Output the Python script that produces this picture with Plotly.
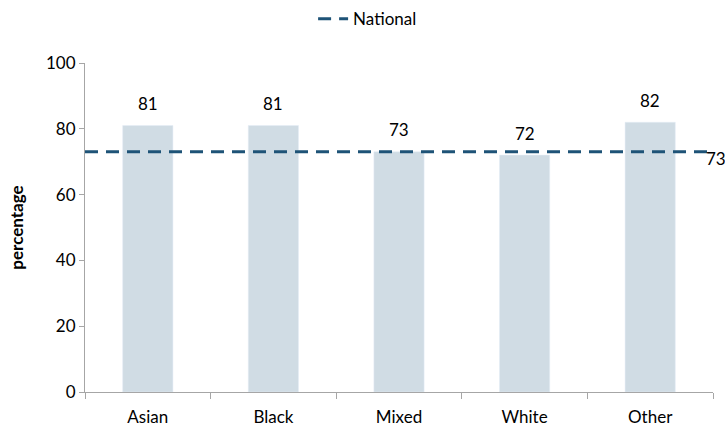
import plotly.graph_objects as go

categories = ["Asian", "Black", "Mixed", "White", "Other"]
values = [81, 81, 73, 72, 82]
national_value = 73
national_line = [national_value, national_value]
y_ticks = [0, 20, 40, 60, 80, 100]

FONT = "Lato, 'Open Sans', sans-serif"
BAR = "#d0dce4"
LINE = "#1e5377"
AXIS = "#a6a6a6"
TXT = "#000000"

fig = go.Figure()
fig.add_trace(go.Bar(
    x=categories, y=values, marker_color=BAR, width=0.4,
    showlegend=False, hoverinfo="x+y",
))
fig.add_trace(go.Scatter(
    x=[0, 1], y=national_line, xaxis="x2", yaxis="y",
    mode="lines", name="National",
    line=dict(color=LINE, width=3, dash="13px,8px"),
))

for c, v in zip(categories, values):
    fig.add_annotation(x=c, y=v, text=str(v), showarrow=False,
                       yanchor="middle", yshift=22,
                       font=dict(size=17, color=TXT, family=FONT))
fig.add_annotation(x=1, y=national_value, xref="paper", yref="y",
                   text=str(national_value), showarrow=False,
                   xanchor="left", yanchor="middle", xshift=-9, yshift=-7,
                   font=dict(size=17, color=TXT, family=FONT))

fig.update_layout(
    width=725, height=427,
    margin=dict(l=85, r=12, t=63, b=35),
    paper_bgcolor="white", plot_bgcolor="white",
    font=dict(family=FONT, size=17, color=TXT),
    legend=dict(orientation="h", x=0.45, xanchor="center", y=0.997, yanchor="top",
                xref="paper", yref="container", font=dict(size=17, color=TXT)),
    xaxis=dict(
        showline=True, linecolor=AXIS, linewidth=1, ticks="outside",
        tickson="boundaries", ticklen=6, tickcolor=AXIS, showgrid=False,
        tickfont=dict(size=17, color=TXT), range=[-0.5, 4.5],
        ticklabelstandoff=10, automargin=False,
    ),
    xaxis2=dict(overlaying="x", range=[0, 1], visible=False),
    yaxis=dict(
        range=[0, 100], tickvals=y_ticks, showline=True, linecolor=AXIS,
        linewidth=1, ticks="outside", ticklen=5, tickcolor=AXIS,
        showgrid=False, zeroline=False, tickfont=dict(size=17, color=TXT),
        title=dict(text="<b>percentage</b>", font=dict(size=17, color=TXT), standoff=18),
    ),
)

fig.write_html("out.html")
